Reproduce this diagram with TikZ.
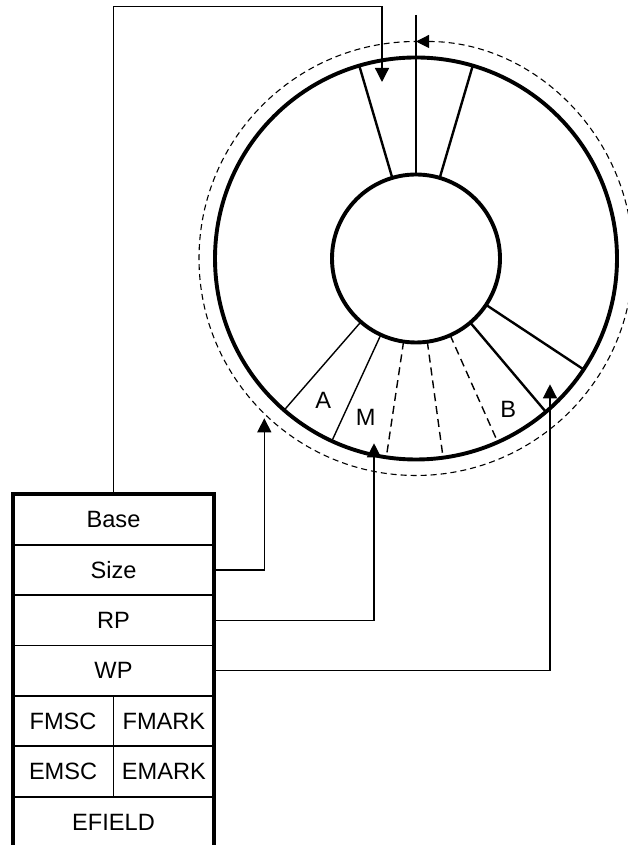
\documentclass[tikz,border=0pt]{standalone}
\usepackage{fontspec}
\setmainfont{Liberation Sans}
\usetikzlibrary{positioning, arrows.meta}
\newcommand{\tblfont}{\fontsize{11.8}{13}\selectfont}
\tikzset{
  cell/.style={rectangle, draw, line width=0.9pt, outer sep=0pt, inner sep=0pt,
    minimum width=100.8pt, minimum height=25.2pt, font=\tblfont},
  halfcell/.style={cell, minimum width=50.4pt},
  frame/.style={line width=1.9pt},
  ring/.style={line width=1.95pt},
  ringdash/.style={line width=0.55pt, dash pattern=on 3pt off 2pt},
  spoke/.style={line width=1.2pt},
  thinspoke/.style={line width=0.7pt},
  dashspoke/.style={line width=0.7pt, dash pattern=on 4pt off 2.5pt},
  link/.style={line width=0.65pt},
  linkarrow/.style={link, -{Triangle[length=7pt, width=7pt]}},
  seg/.style={font=\tblfont},
}
\begin{document}
\begin{tikzpicture}[x=0.5pt, y=0.5pt]
    \useasboundingbox (0,0) rectangle (627,845);
    % ring buffer
    \coordinate (c) at (416,586.5);
    \path (c) ++(90:84) coordinate (hubtop);
    \draw[ring] (c) circle[radius=201];
    \draw[ring] (c) circle[radius=84];
    \draw[ringdash, {Triangle[length=6.5pt, width=6.5pt]}-]
      (c) ++(90:217) arc[start angle=90, end angle=-270, radius=217];
    \draw[spoke, line width=1.1pt] (416,830) -- (hubtop);
    \foreach \a in {73.6, 106.4, 310.25, 326.5}
      \draw[spoke, shift={(c)}] (\a:84) -- (\a:201);
    \foreach \a in {229, 245.25}
      \draw[thinspoke, shift={(c)}] (\a:84) -- (\a:201);
    \foreach \a in {261.5, 277.75, 294}
      \draw[dashspoke, shift={(c)}] (\a:84) -- (\a:201);
    \node[seg] (lblA) at (323.3,444.3) {A};
    \node[seg] (lblM) at (365.7,427.3) {M};
    \node[seg] (lblB) at (508.3,435.7) {B};
    % control block
    \node[cell] (base) at (113.5,325.5) {Base};
    \node[cell, below=0pt of base] (size) {Size};
    \node[cell, below=0pt of size] (rp) {RP};
    \node[cell, below=0pt of rp] (wp) {WP};
    \node[halfcell, anchor=north west] (fmsc) at (wp.south west) {FMSC};
    \node[halfcell, anchor=north east] (fmark) at (wp.south east) {FMARK};
    \node[halfcell, below=0pt of fmsc] (emsc) {EMSC};
    \node[halfcell, below=0pt of fmark] (emark) {EMARK};
    \node[cell, anchor=north west] (efield) at (emsc.south west) {EFIELD};
    \draw[frame] (efield.south west) -- (base.north west) -- (base.north east) -- (efield.south east);
    % pointers
    \coordinate (basebend) at (382,838.3);
    \coordinate (basetip) at (382,763);
    \coordinate (sizetip) at (264.3,426.7);
    \coordinate (rptip) at (374,401.7);
    \coordinate (wptip) at (550,460.7);
    \draw[linkarrow] (base.north) |- (basebend) -- (basetip);
    \draw[linkarrow] (size.east) -| (sizetip);
    \draw[linkarrow] (rp.east) -| (rptip);
    \draw[linkarrow] (wp.east) -| (wptip);
\end{tikzpicture}
\end{document}
